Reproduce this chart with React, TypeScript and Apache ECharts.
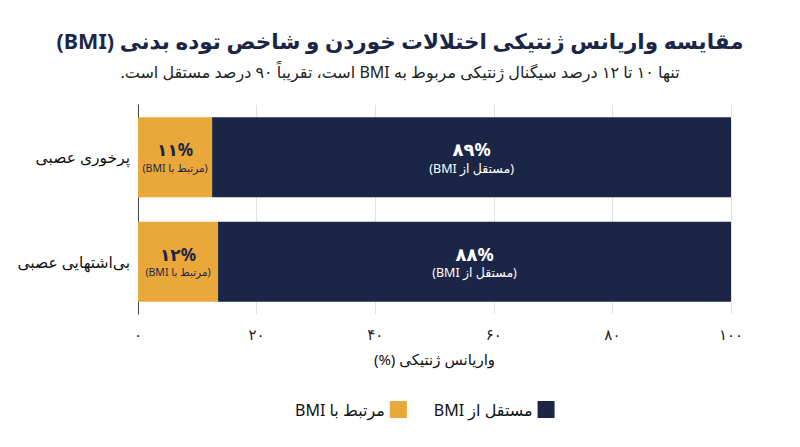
import { useEffect, useRef } from 'react';
import * as echarts from 'echarts';

// داده‌ها
const categories = ['پرخوری عصبی', 'بی‌اشتهایی عصبی'];
const relatedValues = [12.5, 13.5];
const independentValues = [87.5, 86.5];
const relatedLabels = ['۱۱%', '۱۲%'];
const independentLabels = ['۸۹%', '۸۸%'];
const xTickLabels = ['۰', '۲۰', '۴۰', '۶۰', '۸۰', '۱۰۰'];

const relatedName = 'مرتبط با BMI';
const independentName = 'مستقل از BMI';

const NAVY = '#1b2646';
const ORANGE = '#eba83a';
const FONT = "'Noto Sans', 'DejaVu Sans', sans-serif";

// right-to-left embedding so parentheses and latin runs land on the correct side
const rtl = (s: string) => '\u202B' + s + '\u202C';

export default function App() {
  const chartRef = useRef<HTMLDivElement>(null);

  useEffect(() => {
    if (!chartRef.current) return;
    document.body.style.margin = '0';

    const chart = echarts.init(chartRef.current, null, { renderer: 'svg' });

    const option: echarts.EChartsOption = {
      animation: false,
      backgroundColor: '#ffffff',
      textStyle: { fontFamily: FONT },
      title: {
        text: rtl('مقایسه واریانس ژنتیکی اختلالات خوردن و شاخص توده بدنی (BMI)'),
        subtext: rtl('تنها ۱۰ تا ۱۲ درصد سیگنال ژنتیکی مربوط به BMI است، تقریباً ۹۰ درصد مستقل است.'),
        left: 'center',
        top: 24,
        itemGap: 13,
        textStyle: { fontFamily: FONT, fontSize: 21.5, fontWeight: 'bold', color: NAVY },
        subtextStyle: { fontFamily: FONT, fontSize: 16, color: '#222222' }
      },
      legend: {
        data: [relatedName, independentName],
        left: 290,
        top: 396,
        icon: 'rect',
        itemWidth: 17,
        itemHeight: 17,
        itemGap: 27,
        align: 'right',
        formatter: (name: string) => rtl(name),
        textStyle: { fontFamily: FONT, fontSize: 16, color: '#111111' }
      },
      grid: {
        left: 138,
        right: 69,
        top: 105,
        bottom: 133
      },
      xAxis: {
        type: 'value',
        min: 0,
        max: 100,
        interval: 20,
        name: rtl('واریانس ژنتیکی (%)'),
        nameLocation: 'middle',
        nameGap: 37,
        nameTextStyle: { fontFamily: FONT, fontSize: 15, color: '#111111' },
        axisLine: { show: false },
        axisTick: { show: false },
        axisLabel: {
          margin: 12,
          fontSize: 15,
          color: '#222222',
          fontFamily: FONT,
          formatter: (v: number) => xTickLabels[Math.round(v / 20)] ?? String(v)
        },
        splitLine: { lineStyle: { color: '#e2e2e2', width: 1 } }
      },
      yAxis: {
        type: 'category',
        data: categories,
        inverse: true,
        axisTick: { show: false },
        axisLine: { lineStyle: { color: '#444444', width: 1 } },
        axisLabel: {
          margin: 8,
          fontSize: 15.5,
          color: '#111111',
          fontFamily: FONT
        }
      },
      series: [
        {
          name: relatedName,
          type: 'bar',
          stack: 'total',
          barWidth: 80,
          data: relatedValues,
          itemStyle: { color: ORANGE },
          label: {
            show: true,
            position: 'inside',
            formatter: (p: any) => `{v|${relatedLabels[p.dataIndex]}}\n{s|${rtl('(' + relatedName + ')')}}`,
            rich: {
              v: { fontSize: 17, fontWeight: 'bold', color: NAVY, fontFamily: FONT, lineHeight: 21 },
              s: { fontSize: 10.5, color: NAVY, fontFamily: FONT, lineHeight: 15 }
            }
          }
        },
        {
          name: independentName,
          type: 'bar',
          stack: 'total',
          barWidth: 80,
          data: independentValues,
          itemStyle: { color: NAVY },
          label: {
            show: true,
            position: 'inside',
            formatter: (p: any) => `{v|${independentLabels[p.dataIndex]}}\n{s|${rtl('(' + independentName + ')')}}`,
            rich: {
              v: { fontSize: 18, fontWeight: 'bold', color: '#ffffff', fontFamily: FONT, lineHeight: 22 },
              s: { fontSize: 12.5, color: '#ffffff', fontFamily: FONT, lineHeight: 16 }
            }
          }
        }
      ]
    };

    chart.setOption(option);

    return () => {
      chart.dispose();
    };
  }, []);

  return <div ref={chartRef} style={{ width: 800, height: 447 }} />;
}
